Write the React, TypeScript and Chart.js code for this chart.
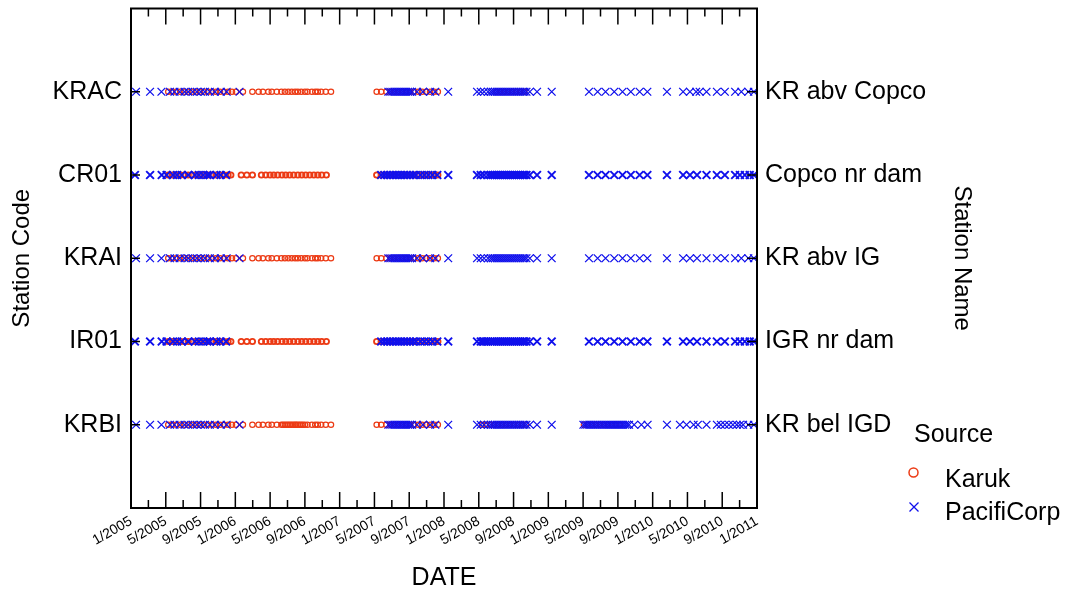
import React, { useEffect, useRef } from 'react';
import { Chart, registerables } from 'chart.js';

Chart.register(...registerables);

const stationCodes = ['KRAC', 'CR01', 'KRAI', 'IR01', 'KRBI'];
const stationNames = ['KR abv Copco', 'Copco nr dam', 'KR abv IG', 'IGR nr dam', 'KR bel IGD'];
const stationLevels = [5, 4, 3, 2, 1];
const dateTickLabels = [
  '1/2005', '5/2005', '9/2005', '1/2006', '5/2006', '9/2006', '1/2007', '5/2007', '9/2007', '1/2008',
  '5/2008', '9/2008', '1/2009', '5/2009', '9/2009', '1/2010', '5/2010', '9/2010', '1/2011',
];
const sourceNames = ['Karuk', 'PacifiCorp'];

// ---- Karuk sampling dates ----
const karukKRAC = [
  '2005-05-10', '2005-05-24', '2005-06-07', '2005-06-21', '2005-07-05', '2005-07-19', '2005-08-02', '2005-08-16',
  '2005-08-30', '2005-09-13', '2005-09-27', '2005-10-11', '2005-10-25', '2005-11-08', '2005-11-22', '2005-12-06',
  '2005-12-20', '2006-01-03', '2006-01-28', '2006-02-28', '2006-03-22', '2006-04-06', '2006-04-25', '2006-05-07',
  '2006-05-25', '2006-06-10', '2006-06-22', '2006-07-04', '2006-07-16', '2006-07-28', '2006-08-07', '2006-08-19',
  '2006-09-01', '2006-09-10', '2006-09-25', '2006-10-07', '2006-10-16', '2006-10-28', '2006-11-13', '2006-12-01',
  '2007-05-09', '2007-05-25', '2007-06-12', '2007-06-26', '2007-07-10', '2007-07-24', '2007-08-07', '2007-08-21',
  '2007-09-04', '2007-09-18', '2007-10-02', '2007-10-16', '2007-10-30', '2007-11-13', '2007-11-27', '2007-12-10',
  '2008-07-02', '2008-07-16', '2008-07-30', '2008-08-13', '2008-08-27', '2008-09-10', '2008-09-24', '2008-10-08',
];
const karukCR01 = [
  '2005-05-10', '2005-05-24', '2005-06-07', '2005-06-21', '2005-07-05', '2005-07-19', '2005-08-02', '2005-08-16',
  '2005-08-30', '2005-09-13', '2005-09-27', '2005-10-11', '2005-10-25', '2005-11-08', '2005-11-22', '2005-12-06',
  '2005-12-16', '2006-01-22', '2006-02-10', '2006-02-28', '2006-04-01', '2006-04-16', '2006-05-01', '2006-05-14',
  '2006-05-28', '2006-06-12', '2006-06-25', '2006-07-09', '2006-07-23', '2006-08-07', '2006-08-21', '2006-09-04',
  '2006-09-18', '2006-10-02', '2006-10-16', '2006-10-30', '2006-11-15',
  '2007-05-09', '2007-05-25', '2007-06-12', '2007-06-26', '2007-07-10', '2007-07-24', '2007-08-07', '2007-08-21',
  '2007-09-04', '2007-09-18', '2007-10-02', '2007-10-16', '2007-10-30', '2007-11-13', '2007-11-27', '2007-12-10',
];
const karukKRAI = [
  '2005-05-10', '2005-05-24', '2005-06-07', '2005-06-21', '2005-07-05', '2005-07-19', '2005-08-02', '2005-08-16',
  '2005-08-30', '2005-09-13', '2005-09-27', '2005-10-11', '2005-10-25', '2005-11-08', '2005-11-22', '2005-12-06',
  '2005-12-20', '2006-01-03', '2006-01-28', '2006-02-28', '2006-03-22', '2006-04-06', '2006-04-25', '2006-05-07',
  '2006-05-25', '2006-06-10', '2006-06-22', '2006-07-04', '2006-07-16', '2006-07-28', '2006-08-07', '2006-08-19',
  '2006-09-01', '2006-09-10', '2006-09-25', '2006-10-07', '2006-10-16', '2006-10-28', '2006-11-13', '2006-12-01',
  '2007-05-09', '2007-05-25', '2007-06-12', '2007-06-26', '2007-07-10', '2007-07-24', '2007-08-07', '2007-08-21',
  '2007-09-04', '2007-09-18', '2007-10-02', '2007-10-16', '2007-10-30', '2007-11-13', '2007-11-27', '2007-12-10',
];
const karukIR01 = [
  '2005-05-10', '2005-05-24', '2005-06-07', '2005-06-21', '2005-07-05', '2005-07-19', '2005-08-02', '2005-08-16',
  '2005-08-30', '2005-09-13', '2005-09-27', '2005-10-11', '2005-10-25', '2005-11-08', '2005-11-22', '2005-12-06',
  '2005-12-16', '2006-01-22', '2006-02-10', '2006-02-28', '2006-04-01', '2006-04-16', '2006-05-01', '2006-05-14',
  '2006-05-28', '2006-06-12', '2006-06-25', '2006-07-09', '2006-07-23', '2006-08-07', '2006-08-21', '2006-09-04',
  '2006-09-18', '2006-10-02', '2006-10-16', '2006-10-30', '2006-11-15',
  '2007-05-09', '2007-05-25', '2007-06-12', '2007-06-26', '2007-07-10', '2007-07-24', '2007-08-07', '2007-08-21',
  '2007-09-04', '2007-09-18', '2007-10-02', '2007-10-16', '2007-10-30', '2007-11-13', '2007-11-27', '2007-12-10',
];
const karukKRBI = [
  '2005-05-10', '2005-05-24', '2005-06-07', '2005-06-21', '2005-07-05', '2005-07-19', '2005-08-02', '2005-08-16',
  '2005-08-30', '2005-09-13', '2005-09-27', '2005-10-11', '2005-10-25', '2005-11-08', '2005-11-22', '2005-12-06',
  '2005-12-20', '2006-01-03', '2006-01-28', '2006-02-28', '2006-03-22', '2006-04-06', '2006-04-25', '2006-05-07',
  '2006-05-25', '2006-06-10', '2006-06-16', '2006-06-22', '2006-06-28', '2006-07-04', '2006-07-10', '2006-07-16',
  '2006-07-22', '2006-07-28', '2006-08-01', '2006-08-07', '2006-08-13', '2006-08-19', '2006-08-25', '2006-09-01',
  '2006-09-10', '2006-09-25', '2006-10-07', '2006-10-16', '2006-10-28', '2006-11-13', '2006-12-01',
  '2007-05-09', '2007-05-25', '2007-06-12', '2007-06-26', '2007-07-10', '2007-07-24', '2007-08-07', '2007-08-21',
  '2007-09-04', '2007-09-18', '2007-10-02', '2007-10-16', '2007-10-30', '2007-11-13', '2007-11-27', '2007-12-10',
  '2008-05-13', '2008-05-27', '2008-06-10', '2008-06-24', '2008-07-08', '2008-07-22', '2008-08-05', '2008-08-19',
  '2008-09-02', '2008-09-16', '2008-09-30', '2008-10-14',
  '2009-05-04', '2009-05-18', '2009-06-01', '2009-06-15', '2009-06-29', '2009-07-13', '2009-07-27', '2009-08-10',
  '2009-08-24', '2009-09-07',
];

// ---- PacifiCorp sampling dates ----
const pacifiKRAC = [
  '2005-01-19', '2005-03-07', '2005-04-16', '2005-05-16', '2005-06-01', '2005-06-19', '2005-07-06', '2005-07-19',
  '2005-08-04', '2005-08-19', '2005-09-02', '2005-09-16', '2005-10-03', '2005-10-21', '2005-11-11', '2005-12-01',
  '2006-01-16',
  '2007-06-19', '2007-06-26', '2007-07-03', '2007-07-10', '2007-07-17', '2007-07-24', '2007-07-31', '2007-08-07',
  '2007-08-14', '2007-08-21', '2007-08-28', '2007-09-04', '2007-09-11', '2007-09-28', '2007-10-19', '2007-11-13',
  '2007-12-01', '2008-01-16',
  '2008-04-25', '2008-05-08', '2008-05-20', '2008-06-03', '2008-06-12', '2008-06-19', '2008-06-26', '2008-07-03',
  '2008-07-10', '2008-07-17', '2008-07-24', '2008-07-31', '2008-08-07', '2008-08-14', '2008-08-21', '2008-08-28',
  '2008-09-04', '2008-09-11', '2008-09-18', '2008-09-25', '2008-10-02', '2008-10-09', '2008-10-16', '2008-10-28',
  '2008-11-22', '2009-01-13',
  '2009-05-22', '2009-06-21', '2009-07-19', '2009-08-19', '2009-09-17', '2009-10-16', '2009-11-16', '2009-12-13',
  '2010-02-19', '2010-04-16', '2010-05-10', '2010-06-01', '2010-06-13', '2010-07-07', '2010-08-13', '2010-09-10',
  '2010-10-16', '2010-11-07', '2010-12-01', '2010-12-21',
];
const pacifiCR01 = [
  '2005-01-15', '2005-03-07', '2005-04-17', '2005-05-04', '2005-05-27', '2005-06-10', '2005-06-26', '2005-07-19',
  '2005-08-12', '2005-08-26', '2005-09-10', '2005-09-24', '2005-10-03', '2005-10-27', '2005-11-10', '2005-11-29',
  '2007-05-25', '2007-06-05', '2007-06-15', '2007-06-25', '2007-07-05', '2007-07-15', '2007-07-25', '2007-08-04',
  '2007-08-14', '2007-08-24', '2007-09-04', '2007-09-14', '2007-09-24', '2007-10-10', '2007-10-24', '2007-11-07',
  '2007-11-21', '2007-12-08', '2008-01-16',
  '2008-04-25', '2008-05-08', '2008-05-20', '2008-06-03', '2008-06-12', '2008-06-19', '2008-06-26', '2008-07-03',
  '2008-07-10', '2008-07-17', '2008-07-24', '2008-07-31', '2008-08-07', '2008-08-14', '2008-08-21', '2008-08-28',
  '2008-09-04', '2008-09-11', '2008-09-18', '2008-09-25', '2008-10-02', '2008-10-09', '2008-10-16', '2008-10-28',
  '2008-11-22', '2009-01-13',
  '2009-05-22', '2009-06-21', '2009-07-19', '2009-08-19', '2009-09-17', '2009-10-16', '2009-11-16', '2009-12-13',
  '2010-02-19', '2010-04-16', '2010-05-10', '2010-06-04', '2010-07-07', '2010-08-13', '2010-09-10', '2010-10-16',
  '2010-11-02', '2010-11-19', '2010-12-06', '2010-12-21',
];
const pacifiKRAI = [
  '2005-01-19', '2005-03-07', '2005-04-16', '2005-05-16', '2005-06-01', '2005-06-19', '2005-07-06', '2005-07-19',
  '2005-08-04', '2005-08-19', '2005-09-02', '2005-09-16', '2005-10-03', '2005-10-21', '2005-11-11', '2005-12-01',
  '2006-01-16',
  '2007-06-19', '2007-06-26', '2007-07-03', '2007-07-10', '2007-07-17', '2007-07-24', '2007-07-31', '2007-08-07',
  '2007-08-14', '2007-08-21', '2007-08-28', '2007-09-04', '2007-09-11', '2007-09-28', '2007-10-19', '2007-11-13',
  '2007-12-01', '2008-01-16',
  '2008-04-25', '2008-05-08', '2008-05-20', '2008-06-03', '2008-06-12', '2008-06-19', '2008-06-26', '2008-07-03',
  '2008-07-10', '2008-07-17', '2008-07-24', '2008-07-31', '2008-08-07', '2008-08-14', '2008-08-21', '2008-08-28',
  '2008-09-04', '2008-09-11', '2008-09-18', '2008-09-25', '2008-10-02', '2008-10-09', '2008-10-16', '2008-10-28',
  '2008-11-22', '2009-01-13',
  '2009-05-22', '2009-06-21', '2009-07-19', '2009-08-19', '2009-09-17', '2009-10-16', '2009-11-16', '2009-12-13',
  '2010-02-19', '2010-04-16', '2010-05-10', '2010-06-04', '2010-07-07', '2010-08-13', '2010-09-10', '2010-10-16',
  '2010-11-07', '2010-12-01', '2010-12-21',
];
const pacifiIR01 = [
  '2005-01-15', '2005-03-07', '2005-04-17', '2005-05-04', '2005-05-27', '2005-06-10', '2005-06-26', '2005-07-19',
  '2005-08-12', '2005-08-26', '2005-09-10', '2005-09-24', '2005-10-03', '2005-10-27', '2005-11-10', '2005-11-29',
  '2007-05-25', '2007-06-05', '2007-06-15', '2007-06-25', '2007-07-05', '2007-07-15', '2007-07-25', '2007-08-04',
  '2007-08-14', '2007-08-24', '2007-09-04', '2007-09-14', '2007-09-24', '2007-10-10', '2007-10-24', '2007-11-07',
  '2007-11-21', '2007-12-08', '2008-01-16',
  '2008-04-25', '2008-05-08', '2008-05-14', '2008-05-20', '2008-05-27', '2008-06-03', '2008-06-12', '2008-06-19',
  '2008-06-26', '2008-07-03', '2008-07-10', '2008-07-17', '2008-07-24', '2008-07-31', '2008-08-07', '2008-08-14',
  '2008-08-21', '2008-08-28', '2008-09-04', '2008-09-11', '2008-09-18', '2008-09-25', '2008-10-02', '2008-10-09',
  '2008-10-16', '2008-10-28', '2008-11-22', '2009-01-13',
  '2009-05-22', '2009-06-21', '2009-07-19', '2009-08-19', '2009-09-17', '2009-10-16', '2009-11-16', '2009-12-13',
  '2010-02-19', '2010-04-16', '2010-05-10', '2010-06-04', '2010-07-07', '2010-08-13', '2010-09-10', '2010-10-16',
  '2010-11-02', '2010-11-19', '2010-12-06', '2010-12-21',
];
const pacifiKRBI = [
  '2005-01-19', '2005-03-07', '2005-04-16', '2005-05-16', '2005-06-01', '2005-06-19', '2005-07-06', '2005-07-19',
  '2005-08-04', '2005-08-19', '2005-09-02', '2005-09-16', '2005-10-03', '2005-10-21', '2005-11-11', '2005-12-01',
  '2006-01-16',
  '2007-06-19', '2007-06-26', '2007-07-03', '2007-07-10', '2007-07-17', '2007-07-24', '2007-07-31', '2007-08-07',
  '2007-08-14', '2007-08-21', '2007-08-28', '2007-09-04', '2007-09-11', '2007-09-28', '2007-10-19', '2007-11-13',
  '2007-12-01', '2008-01-16',
  '2008-04-25', '2008-05-08', '2008-05-20', '2008-06-03', '2008-06-12', '2008-06-19', '2008-06-26', '2008-07-03',
  '2008-07-10', '2008-07-17', '2008-07-24', '2008-07-31', '2008-08-07', '2008-08-14', '2008-08-21', '2008-08-28',
  '2008-09-04', '2008-09-11', '2008-09-18', '2008-09-25', '2008-10-02', '2008-10-09', '2008-10-16', '2008-10-28',
  '2008-11-22', '2009-01-13',
  '2009-05-02', '2009-05-09', '2009-05-16', '2009-05-23', '2009-05-30', '2009-06-06', '2009-06-13', '2009-06-20',
  '2009-06-27', '2009-07-04', '2009-07-11', '2009-07-18', '2009-07-25', '2009-08-01', '2009-08-08', '2009-08-15',
  '2009-08-22', '2009-08-29', '2009-09-05', '2009-09-12', '2009-09-19', '2009-09-26', '2009-10-03', '2009-10-10',
  '2009-10-28', '2009-11-22', '2009-12-14',
  '2010-02-19', '2010-04-05', '2010-04-28', '2010-05-23', '2010-06-07', '2010-07-07', '2010-08-13', '2010-08-27',
  '2010-09-10', '2010-09-24', '2010-10-08', '2010-10-22', '2010-11-02', '2010-11-13', '2010-12-01', '2010-12-21',
];

const karukByStation = [karukKRAC, karukCR01, karukKRAI, karukIR01, karukKRBI];
const pacifiByStation = [pacifiKRAC, pacifiCR01, pacifiKRAI, pacifiIR01, pacifiKRBI];

const FONT = '"Liberation Sans", Arial, Helvetica, sans-serif';
const BLACK = '#000000';
const RED = 'rgb(236,58,20)';
const BLUE = 'rgb(16,16,236)';

// months since 1 Jan 2005
function toMonths(d: string): number {
  const [y, m, day] = d.split('-').map(Number);
  const dim = new Date(y, m, 0).getDate();
  return (y - 2005) * 12 + (m - 1) + (day - 1) / dim;
}

function toPoints(lists: string[][]) {
  return lists.flatMap((list, i) => list.map((d) => ({ x: toMonths(d), y: stationLevels[i] })));
}

const heavyRow = (ctx: any) => {
  const y = ctx?.raw?.y;
  return y === 4 || y === 2;
};

const framePlugin = {
  id: 'frameTicks',
  afterDatasetsDraw(chart: any) {
    const { ctx, chartArea: a, scales } = chart;
    const xs = scales.x;
    const ys = scales.y;
    ctx.save();
    ctx.strokeStyle = BLACK;
    ctx.lineWidth = 1.5;
    ctx.beginPath();
    xs.ticks.forEach((t: any, i: number) => {
      const major = xs.getPixelForValue(t.value);
      if (i > 0 && i < xs.ticks.length - 1) {
        ctx.moveTo(major, a.top);
        ctx.lineTo(major, a.top + 16);
        ctx.moveTo(major, a.bottom);
        ctx.lineTo(major, a.bottom - 16);
      }
      if (i < xs.ticks.length - 1) {
        const minor = xs.getPixelForValue((t.value + xs.ticks[i + 1].value) / 2);
        ctx.moveTo(minor, a.top);
        ctx.lineTo(minor, a.top + 8);
        ctx.moveTo(minor, a.bottom);
        ctx.lineTo(minor, a.bottom - 8);
      }
    });
    ys.ticks.forEach((t: any) => {
      const py = ys.getPixelForValue(t.value);
      ctx.moveTo(a.left, py);
      ctx.lineTo(a.left + 9, py);
      ctx.moveTo(a.right - 10, py);
      ctx.lineTo(a.right, py);
    });
    ctx.stroke();
    ctx.lineWidth = 2;
    ctx.strokeRect(a.left, a.top, a.right - a.left, a.bottom - a.top);
    ctx.restore();
  },
};

const legendPlugin = {
  id: 'sourceLegend',
  afterDraw(chart: any) {
    const { ctx } = chart;
    const ds = chart.data.datasets;
    ctx.save();
    ctx.fillStyle = BLACK;
    ctx.font = `25px ${FONT}`;
    ctx.textAlign = 'left';
    ctx.textBaseline = 'alphabetic';
    ctx.fillText('Source', 914, 442);
    ctx.strokeStyle = ds[0].pointBorderColor;
    ctx.lineWidth = 1.5;
    ctx.beginPath();
    ctx.arc(913.5, 472.5, 4.5, 0, Math.PI * 2);
    ctx.stroke();
    ctx.fillText(ds[0].label, 945, 487);
    ctx.strokeStyle = ds[1].pointBorderColor;
    ctx.lineWidth = 1.3;
    ctx.beginPath();
    ctx.moveTo(909.5, 502.5);
    ctx.lineTo(918.5, 511.5);
    ctx.moveTo(918.5, 502.5);
    ctx.lineTo(909.5, 511.5);
    ctx.stroke();
    ctx.fillText(ds[1].label, 945, 520);
    ctx.restore();
  },
};

export default function App() {
  const ref = useRef<HTMLCanvasElement>(null);

  useEffect(() => {
    document.body.style.margin = '0';
    const canvas = ref.current;
    if (!canvas) return;

    const chart = new Chart(canvas, {
      type: 'scatter',
      data: {
        datasets: [
          {
            label: sourceNames[0],
            data: toPoints(karukByStation),
            pointStyle: 'circle',
            pointRadius: 2.7,
            pointHoverRadius: 2.7,
            pointBorderWidth: (ctx: any) => (heavyRow(ctx) ? 1.8 : 1.2),
            pointBorderColor: RED,
            pointBackgroundColor: 'rgba(0,0,0,0)',
            order: 1,
          },
          {
            label: sourceNames[1],
            data: toPoints(pacifiByStation),
            pointStyle: 'crossRot',
            pointRadius: 5.5,
            pointHoverRadius: 5.5,
            pointBorderWidth: (ctx: any) => (heavyRow(ctx) ? 2 : 1.3),
            pointBorderColor: BLUE,
            pointBackgroundColor: BLUE,
            order: 0,
          },
        ],
      } as any,
      options: {
        animation: false,
        responsive: false,
        devicePixelRatio: 1,
        layout: { padding: { left: 4, right: 88, top: 8.5, bottom: 0 } },
        plugins: {
          legend: { display: false },
          tooltip: { enabled: false },
        },
        scales: {
          x: {
            type: 'linear',
            position: 'bottom',
            min: 0,
            max: 72,
            afterBuildTicks: (s: any) => {
              s.ticks = dateTickLabels.map((_, i) => ({ value: i * 4 }));
            },
            afterFit: (s: any) => {
              s.height = 89;
              s.paddingLeft = 0;
              s.paddingRight = 0;
            },
            grid: { display: false, drawTicks: false },
            border: { display: false },
            ticks: {
              autoSkip: false,
              minRotation: 30,
              maxRotation: 30,
              padding: 5,
              color: BLACK,
              font: { family: FONT, size: 14 },
              callback: (v: any) => dateTickLabels[Math.round(Number(v) / 4)] ?? '',
            },
            title: {
              display: true,
              text: 'DATE',
              color: BLACK,
              font: { family: FONT, size: 25 },
            },
          },
          y: {
            type: 'linear',
            position: 'left',
            min: 0,
            max: 6,
            afterBuildTicks: (s: any) => {
              s.ticks = stationLevels.map((v) => ({ value: v }));
            },
            afterFit: (s: any) => {
              s.width = 127;
              s.paddingTop = 0;
              s.paddingBottom = 0;
            },
            grid: { display: false, drawTicks: false },
            border: { display: false },
            ticks: {
              padding: 9,
              color: BLACK,
              font: { family: FONT, size: 25 },
              callback: (v: any) => stationCodes[stationLevels.indexOf(Number(v))] ?? '',
            },
            title: {
              display: true,
              text: 'Station Code',
              color: BLACK,
              font: { family: FONT, size: 24 },
            },
          },
          y2: {
            type: 'linear',
            position: 'right',
            min: 0,
            max: 6,
            afterBuildTicks: (s: any) => {
              s.ticks = stationLevels.map((v) => ({ value: v }));
            },
            afterFit: (s: any) => {
              s.width = 223;
              s.paddingTop = 0;
              s.paddingBottom = 0;
            },
            grid: { display: false, drawTicks: false },
            border: { display: false },
            ticks: {
              padding: 8,
              color: BLACK,
              font: { family: FONT, size: 25 },
              callback: (v: any) => stationNames[stationLevels.indexOf(Number(v))] ?? '',
            },
            title: {
              display: true,
              text: 'Station Name',
              color: BLACK,
              font: { family: FONT, size: 24 },
            },
          },
        },
      } as any,
      plugins: [framePlugin, legendPlugin],
    });

    return () => chart.destroy();
  }, []);

  return (
    <div style={{ width: 1068, height: 597 }}>
      <canvas ref={ref} width={1068} height={597} style={{ display: 'block', width: 1068, height: 597 }} />
    </div>
  );
}
